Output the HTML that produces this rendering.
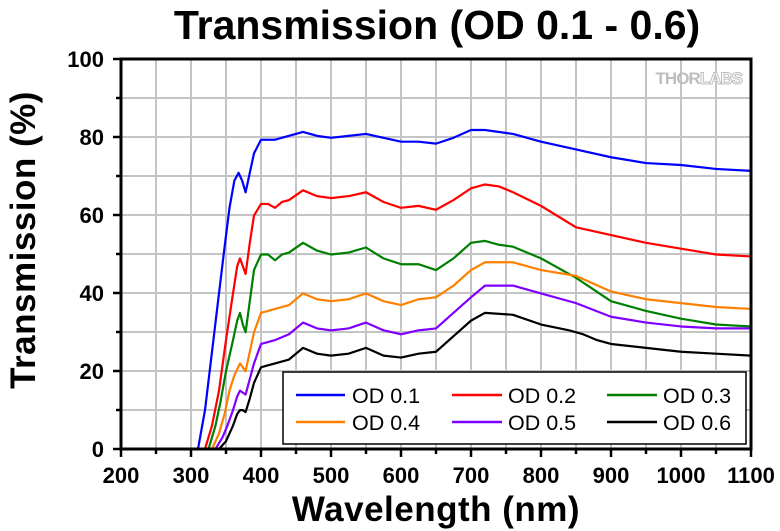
<!DOCTYPE html>
<html><head><meta charset="utf-8"><style>
html,body{margin:0;padding:0;background:#fff;}
svg{display:block;font-family:"Liberation Sans",Arial,sans-serif;}
</style></head><body>
<svg width="780" height="531" viewBox="0 0 780 531" xmlns="http://www.w3.org/2000/svg">
<rect width="780" height="531" fill="#fff"/>
<text x="437" y="39" font-size="41" font-weight="bold" text-anchor="middle">Transmission (OD 0.1 - 0.6)</text>
<!-- grid -->
<g stroke="#c4c4c4" stroke-width="2">
<line x1="156" y1="59" x2="156" y2="449"/><line x1="191" y1="59" x2="191" y2="449"/><line x1="226" y1="59" x2="226" y2="449"/><line x1="261" y1="59" x2="261" y2="449"/><line x1="296" y1="59" x2="296" y2="449"/><line x1="331" y1="59" x2="331" y2="449"/><line x1="366" y1="59" x2="366" y2="449"/><line x1="401" y1="59" x2="401" y2="449"/><line x1="436" y1="59" x2="436" y2="449"/><line x1="471" y1="59" x2="471" y2="449"/><line x1="506" y1="59" x2="506" y2="449"/><line x1="541" y1="59" x2="541" y2="449"/><line x1="576" y1="59" x2="576" y2="449"/><line x1="611" y1="59" x2="611" y2="449"/><line x1="646" y1="59" x2="646" y2="449"/><line x1="681" y1="59" x2="681" y2="449"/><line x1="716" y1="59" x2="716" y2="449"/>
<line x1="121" y1="98" x2="751" y2="98"/><line x1="121" y1="137" x2="751" y2="137"/><line x1="121" y1="176" x2="751" y2="176"/><line x1="121" y1="215" x2="751" y2="215"/><line x1="121" y1="254" x2="751" y2="254"/><line x1="121" y1="293" x2="751" y2="293"/><line x1="121" y1="332" x2="751" y2="332"/><line x1="121" y1="371" x2="751" y2="371"/><line x1="121" y1="410" x2="751" y2="410"/>
</g>
<text x="742" y="84" font-size="17" font-weight="bold" fill="#bdbdbd" text-anchor="end" letter-spacing="-1">THOR<tspan fill="#fff" stroke="#bdbdbd" stroke-width="1">LABS</tspan></text>
<!-- curves -->
<g transform="translate(121,449) scale(0.7,-3.89) translate(-200,0)" fill="none" stroke-width="2.2" stroke-linejoin="round">
<polyline vector-effect="non-scaling-stroke" stroke="#0000ff" points="310,0 320,10 330,25 340,40 348,52 355,62 362,69 368,71 373,69 378,66 384,71 390,76 400,79.5 420,79.5 440,80.5 460,81.5 480,80.5 500,80 525,80.5 550,81 575,80 600,79 625,79 650,78.5 675,80 700,82 720,82 760,81 800,79 850,77 900,75 950,73.5 1000,73 1050,72 1100,71.5"/>
<polyline vector-effect="non-scaling-stroke" stroke="#ff0000" points="320,0 330,6 340,15 350,28 360,40 366,47 370,49 374,47 378,45 384,53 390,60 400,63 410,63 420,62 430,63.5 440,64 460,66.5 480,65 500,64.5 525,65 550,66 575,63.5 600,62 625,62.5 650,61.5 675,64 700,67 720,68 740,67.5 760,66 800,62.5 850,57 900,55 950,53 1000,51.5 1050,50 1100,49.5"/>
<polyline vector-effect="non-scaling-stroke" stroke="#008000" points="325,0 335,6 342,12 350,20 360,28 366,33 370,35 374,32 378,30 384,38 390,46 400,50 410,50 420,48.5 430,50 440,50.5 460,53 480,51 500,50 525,50.5 550,51.8 575,49 600,47.5 625,47.5 650,46 675,49 700,53 720,53.5 740,52.5 760,52 800,49 850,44 900,38 950,35.5 1000,33.5 1050,32 1100,31.5"/>
<polyline vector-effect="non-scaling-stroke" stroke="#ff8000" points="330,0 340,4 348,9 355,15 362,19 370,22 374,21 378,20 384,25 390,30 400,35 410,35.5 420,36 440,37 460,40 480,38.5 500,38 525,38.5 550,40 575,38 600,37 625,38.5 650,39 675,42 700,46 720,48 760,48 800,46 850,44.5 900,40.5 950,38.5 1000,37.5 1050,36.5 1100,36"/>
<polyline vector-effect="non-scaling-stroke" stroke="#8000ff" points="335,0 345,3 352,6 360,10 366,13.5 370,15 374,14.5 378,14 384,18 390,22 400,27 410,27.5 420,28 440,29.5 460,32.5 480,31 500,30.5 525,31 550,32.5 575,30.5 600,29.5 625,30.5 650,31 675,35 700,39 720,42 760,42 800,40 850,37.5 900,34 950,32.5 1000,31.5 1050,31 1100,31"/>
<polyline vector-effect="non-scaling-stroke" stroke="#000000" points="340,0 350,2 360,6 366,9 370,10 374,10 378,9.5 384,13 390,17 400,21 410,21.5 420,22 440,23 460,26 480,24.5 500,24 525,24.5 550,26 575,24 600,23.5 625,24.5 650,25 675,29 700,33 720,35 760,34.5 800,32 840,30.5 860,29.5 880,28 900,27 950,26 1000,25 1050,24.5 1100,24"/>
</g>
<!-- frame -->
<rect x="121" y="59" width="630" height="390" fill="none" stroke="#000" stroke-width="3"/>
<!-- ticks -->
<g stroke="#000" stroke-width="2.5">
<line x1="121" y1="449" x2="121" y2="457"/><line x1="191" y1="449" x2="191" y2="457"/><line x1="261" y1="449" x2="261" y2="457"/><line x1="331" y1="449" x2="331" y2="457"/><line x1="401" y1="449" x2="401" y2="457"/><line x1="471" y1="449" x2="471" y2="457"/><line x1="541" y1="449" x2="541" y2="457"/><line x1="611" y1="449" x2="611" y2="457"/><line x1="681" y1="449" x2="681" y2="457"/><line x1="751" y1="449" x2="751" y2="457"/>
<line x1="156" y1="449" x2="156" y2="454"/><line x1="226" y1="449" x2="226" y2="454"/><line x1="296" y1="449" x2="296" y2="454"/><line x1="366" y1="449" x2="366" y2="454"/><line x1="436" y1="449" x2="436" y2="454"/><line x1="506" y1="449" x2="506" y2="454"/><line x1="576" y1="449" x2="576" y2="454"/><line x1="646" y1="449" x2="646" y2="454"/><line x1="716" y1="449" x2="716" y2="454"/>
<line x1="113" y1="59" x2="121" y2="59"/><line x1="113" y1="137" x2="121" y2="137"/><line x1="113" y1="215" x2="121" y2="215"/><line x1="113" y1="293" x2="121" y2="293"/><line x1="113" y1="371" x2="121" y2="371"/><line x1="113" y1="449" x2="121" y2="449"/>
<line x1="116" y1="98" x2="121" y2="98"/><line x1="116" y1="176" x2="121" y2="176"/><line x1="116" y1="254" x2="121" y2="254"/><line x1="116" y1="332" x2="121" y2="332"/><line x1="116" y1="410" x2="121" y2="410"/>
</g>
<g font-size="22" font-weight="bold" text-anchor="middle">
<text x="121" y="483">200</text><text x="191" y="483">300</text><text x="261" y="483">400</text><text x="331" y="483">500</text><text x="401" y="483">600</text><text x="471" y="483">700</text><text x="541" y="483">800</text><text x="611" y="483">900</text><text x="681" y="483">1000</text><text x="751" y="483">1100</text>
</g>
<g font-size="22" font-weight="bold" text-anchor="end">
<text x="104" y="67">100</text><text x="104" y="145">80</text><text x="104" y="223">60</text><text x="104" y="301">40</text><text x="104" y="379">20</text><text x="104" y="457">0</text>
</g>
<text x="436" y="521" font-size="35" font-weight="bold" text-anchor="middle" letter-spacing="0.5">Wavelength (nm)</text>
<text transform="translate(35,240) rotate(-90)" font-size="35" font-weight="bold" text-anchor="middle" letter-spacing="0.5">Transmission (%)</text>
<!-- legend -->
<rect x="283" y="372" width="463" height="72" fill="#fff" stroke="#000" stroke-width="1.5"/>
<g stroke-width="2.5">
<line x1="296" y1="395" x2="345" y2="395" stroke="#0000ff"/><line x1="452" y1="395" x2="502" y2="395" stroke="#ff0000"/><line x1="607" y1="395" x2="657" y2="395" stroke="#008000"/>
<line x1="296" y1="422" x2="345" y2="422" stroke="#ff8000"/><line x1="452" y1="422" x2="502" y2="422" stroke="#8000ff"/><line x1="607" y1="422" x2="657" y2="422" stroke="#000"/>
</g>
<g font-size="21.5">
<text x="352" y="403">OD 0.1</text><text x="508" y="403">OD 0.2</text><text x="663" y="403">OD 0.3</text>
<text x="352" y="430">OD 0.4</text><text x="508" y="430">OD 0.5</text><text x="663" y="430">OD 0.6</text>
</g>
</svg>
</body></html>
